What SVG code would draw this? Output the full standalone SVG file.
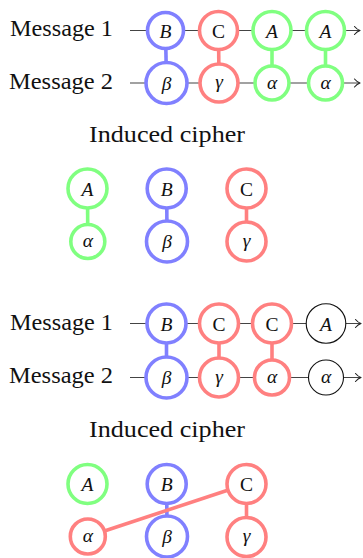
<svg xmlns="http://www.w3.org/2000/svg" width="363" height="558" viewBox="0 0 363 558">
<style>
.lbl{font-family:'Liberation Serif',serif;font-size:23.5px;fill:#111}
.sym{font-family:'Liberation Serif',serif;font-size:19.5px;font-style:italic;fill:#111;text-anchor:middle}
.up{font-style:normal}
.wire{stroke:#444;stroke-width:1.2;fill:none}
.head{stroke:#222;stroke-width:1.1;fill:none;stroke-linecap:round;stroke-linejoin:round}
.b{stroke:#8080ff;stroke-width:3.6;fill:#fff}
.r{stroke:#ff8080;stroke-width:3.6;fill:#fff}
.g{stroke:#80ff80;stroke-width:3.6;fill:#fff}
.k{stroke:#111;stroke-width:1.1;fill:#fff}
.bl{stroke:#8080ff;stroke-width:3.6}
.rl{stroke:#ff8080;stroke-width:3.6}
.gl{stroke:#80ff80;stroke-width:3.6}
</style>
<g id="labels" font-family="Liberation Serif, serif">
<text class="lbl" x="10" y="36" textLength="103" lengthAdjust="spacingAndGlyphs">Message 1</text>
<text class="lbl" x="9" y="89" textLength="104" lengthAdjust="spacingAndGlyphs">Message 2</text>
<text class="lbl" x="89" y="141.5" textLength="156" lengthAdjust="spacingAndGlyphs">Induced cipher</text>
<text class="lbl" x="10" y="329.5" textLength="103" lengthAdjust="spacingAndGlyphs">Message 1</text>
<text class="lbl" x="9" y="383" textLength="104" lengthAdjust="spacingAndGlyphs">Message 2</text>
<text class="lbl" x="89" y="436.5" textLength="156" lengthAdjust="spacingAndGlyphs">Induced cipher</text>
</g>
<g id="connectors">
<line class="wire" x1="130" y1="30.5" x2="359" y2="30.5"/>
<path class="head" d="M354.5,26.5 Q357,29.5 360,30.5 Q357,31.5 354.5,34.5"/>
<line class="wire" x1="130" y1="83" x2="359" y2="83"/>
<path class="head" d="M354.5,79 Q357,82 360,83 Q357,84 354.5,87"/>
<line class="bl" x1="165.5" y1="30.5" x2="166.5" y2="83"/>
<line class="rl" x1="218.5" y1="30.5" x2="219" y2="83"/>
<line class="gl" x1="272" y1="30.5" x2="272" y2="83"/>
<line class="gl" x1="325.5" y1="30.5" x2="325.5" y2="83"/>
<line class="gl" x1="87.5" y1="188.5" x2="87.8" y2="241.5"/>
<line class="bl" x1="166.7" y1="188.5" x2="167" y2="241.5"/>
<line class="rl" x1="246.5" y1="188.5" x2="246.5" y2="241.5"/>
<line class="wire" x1="130" y1="323.5" x2="360" y2="323.5"/>
<path class="head" d="M355.5,319.5 Q358,322.5 361,323.5 Q358,324.5 355.5,327.5"/>
<line class="wire" x1="130" y1="377.5" x2="360" y2="377.5"/>
<path class="head" d="M355.5,373.5 Q358,376.5 361,377.5 Q358,378.5 355.5,381.5"/>
<line class="bl" x1="166.5" y1="323.5" x2="166.5" y2="377.5"/>
<line class="rl" x1="219" y1="323.5" x2="219" y2="377.5"/>
<line class="rl" x1="272" y1="323.5" x2="272" y2="377.5"/>
<line class="bl" x1="166.7" y1="484" x2="167" y2="536.5"/>
<line class="rl" x1="246.5" y1="484" x2="246.5" y2="537"/>
<line class="rl" x1="87.8" y1="536.5" x2="246.5" y2="484"/>
</g>
<g id="nodes" font-family="Liberation Serif, serif">
<g id="s1-B"><circle class="b" cx="165.5" cy="30.5" r="18"/><text class="sym" x="165.5" y="37.5">B</text></g>
<g id="s1-C"><circle class="r" cx="218.5" cy="30.5" r="19"/><text class="sym up" x="218.5" y="37.5">C</text></g>
<g id="s1-A1"><circle class="g" cx="272" cy="30.5" r="19"/><text class="sym" x="272" y="37.5">A</text></g>
<g id="s1-A2"><circle class="g" cx="325.5" cy="30.5" r="19"/><text class="sym" x="325.5" y="37.5">A</text></g>
<g id="s1-beta"><circle class="b" cx="166.5" cy="83" r="20.5"/><text class="sym" x="166.5" y="89.5">β</text></g>
<g id="s1-gamma"><circle class="r" cx="219" cy="83" r="19"/><text class="sym" x="219" y="88">γ</text></g>
<g id="s1-alpha1"><circle class="g" cx="272" cy="83" r="17"/><text class="sym" x="272" y="88.5">α</text></g>
<g id="s1-alpha2"><circle class="g" cx="325.5" cy="83" r="17"/><text class="sym" x="325.5" y="88.5">α</text></g>
<g id="c1-A"><circle class="g" cx="87.5" cy="188.5" r="19.5"/><text class="sym" x="87.5" y="195.5">A</text></g>
<g id="c1-alpha"><circle class="g" cx="87.8" cy="241.5" r="17"/><text class="sym" x="87.8" y="247">α</text></g>
<g id="c1-B"><circle class="b" cx="166.7" cy="188.5" r="19.5"/><text class="sym" x="166.7" y="195.5">B</text></g>
<g id="c1-beta"><circle class="b" cx="167" cy="241.5" r="20.5"/><text class="sym" x="167" y="248">β</text></g>
<g id="c1-C"><circle class="r" cx="246.5" cy="188.5" r="19.5"/><text class="sym up" x="246.5" y="195.5">C</text></g>
<g id="c1-gamma"><circle class="r" cx="246.5" cy="241.5" r="19.5"/><text class="sym" x="246.5" y="246.5">γ</text></g>
<g id="s2-B"><circle class="b" cx="166.5" cy="323.5" r="19.5"/><text class="sym" x="166.5" y="330.5">B</text></g>
<g id="s2-C1"><circle class="r" cx="219" cy="323.5" r="19.5"/><text class="sym up" x="219" y="330.5">C</text></g>
<g id="s2-C2"><circle class="r" cx="272" cy="323.5" r="19.5"/><text class="sym up" x="272" y="330.5">C</text></g>
<g id="s2-A"><circle class="k" cx="326" cy="323.5" r="19.8"/><text class="sym" x="326" y="330.5">A</text></g>
<g id="s2-beta"><circle class="b" cx="166.5" cy="377.5" r="20.5"/><text class="sym" x="166.5" y="384">β</text></g>
<g id="s2-gamma"><circle class="r" cx="219" cy="377.5" r="19.5"/><text class="sym" x="219" y="382.5">γ</text></g>
<g id="s2-alpha1"><circle class="r" cx="272" cy="377.5" r="17.5"/><text class="sym" x="272" y="383">α</text></g>
<g id="s2-alpha2"><circle class="k" cx="326" cy="377.5" r="17.5"/><text class="sym" x="326" y="383">α</text></g>
<g id="c2-A"><circle class="g" cx="87.5" cy="484" r="19.5"/><text class="sym" x="87.5" y="491">A</text></g>
<g id="c2-alpha"><circle class="r" cx="87.8" cy="536.5" r="17.5"/><text class="sym" x="87.8" y="542">α</text></g>
<g id="c2-B"><circle class="b" cx="166.7" cy="484" r="19.5"/><text class="sym" x="166.7" y="491">B</text></g>
<g id="c2-beta"><circle class="b" cx="167" cy="536.5" r="20.5"/><text class="sym" x="167" y="543">β</text></g>
<g id="c2-C"><circle class="r" cx="246.5" cy="484" r="19.5"/><text class="sym up" x="246.5" y="491">C</text></g>
<g id="c2-gamma"><circle class="r" cx="246.5" cy="537" r="19.5"/><text class="sym" x="246.5" y="542">γ</text></g>
</g>
</svg>
